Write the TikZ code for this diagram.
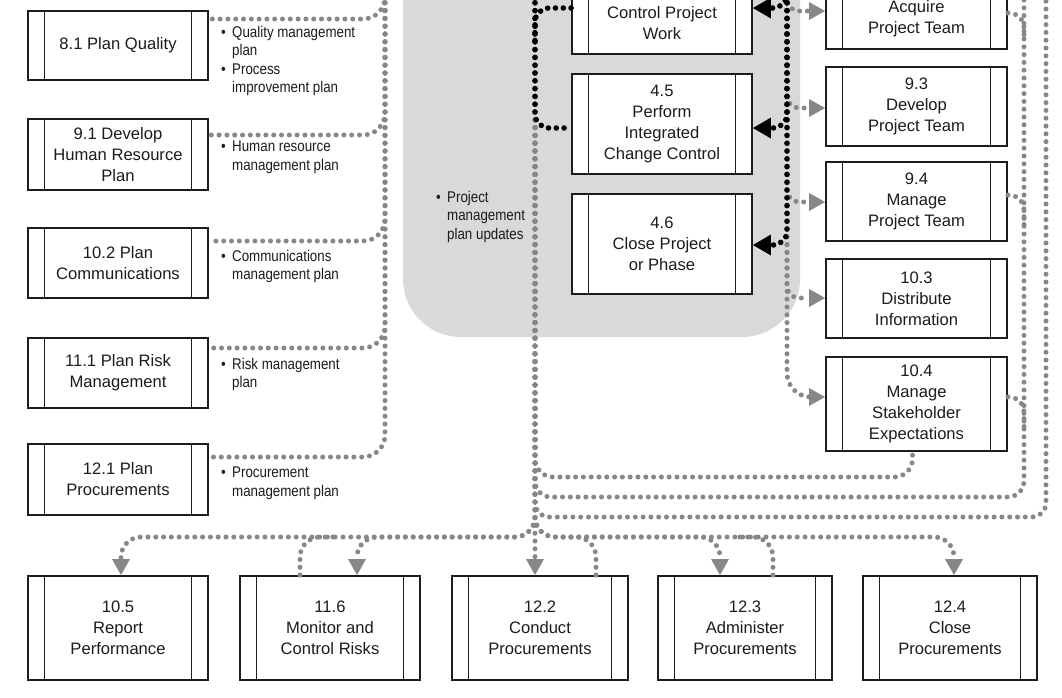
\documentclass[tikz,border=0pt]{standalone}
\usepackage{fontspec}
\setmainfont{Liberation Sans}
\newfontfamily\notefont[FakeStretch=0.86]{Liberation Sans}
\usetikzlibrary{arrows.meta,calc}

\definecolor{ink}{RGB}{28,28,28}
\definecolor{dotgray}{RGB}{135,135,135}
\definecolor{panelgray}{RGB}{217,217,217}

% bullet item and continuation indent for the output lists
\newcommand\itm{\makebox[11pt][l]{\textbullet}}
\newcommand\cnt{\hspace*{11pt}}

\begin{document}
\begin{tikzpicture}[x=1pt,y=-1pt,
  proc/.style={draw=ink, line width=1.9pt, fill=white, inner sep=0pt, align=center, text=ink,
    font=\fontsize{16.6pt}{21pt}\selectfont,
    path picture={
      \draw[ink, line width=1.5pt]
        ([xshift=16.5pt]path picture bounding box.north west) -- ([xshift=16.5pt]path picture bounding box.south west)
        ([xshift=-16.5pt]path picture bounding box.north east) -- ([xshift=-16.5pt]path picture bounding box.south east);
    }},
  note/.style={anchor=north west, inner sep=0pt, align=left, text=ink,
    font=\notefont\fontsize{15.5pt}{18.3pt}\selectfont},
  gdot/.style={draw=dotgray, line width=5pt, line cap=round, dash pattern=on 0pt off 7.8pt, rounded corners=18pt},
  bdot/.style={draw=black, line width=5.6pt, line cap=round, dash pattern=on 0pt off 7.8pt, rounded corners=14pt},
  gtip/.style={-{Triangle[length=16pt,width=18pt,line width=0pt]}},
  btip/.style={-{Triangle[length=18pt,width=21pt,line width=0pt]}},
]
\useasboundingbox (0,0) rectangle (1062,697);
\fill[white] (0,0) rectangle (1062,697);
\begin{scope}
\clip (0,0) rectangle (1062,697);

% shaded group of integration processes
\fill[panelgray, rounded corners=58pt] (403,-80) rectangle (800,337);

% planning processes
\node[proc, minimum width=180pt, minimum height=69pt] (q81) at (118,45.5) {8.1 Plan Quality};
\node[proc, minimum width=180pt, minimum height=71pt] (hr91) at (118,154.5) {9.1 Develop\\Human Resource\\Plan};
\node[proc, minimum width=180pt, minimum height=70pt] (c102) at (118,263) {10.2 Plan\\Communications};
\node[proc, minimum width=180pt, minimum height=70pt] (r111) at (118,373) {11.1 Plan Risk\\Management};
\node[proc, minimum width=180pt, minimum height=71pt] (p121) at (118,479.5) {12.1 Plan\\Procurements};

% their outputs
\node[note] (n81) at (221,26) {\itm Quality management\\\cnt plan\\\itm Process\\\cnt improvement plan};
\node[note] (n91) at (221,141) {\itm Human resource\\\cnt management plan};
\node[note] (n102) at (221,250) {\itm Communications\\\cnt management plan};
\node[note] (n111) at (221,358) {\itm Risk management\\\cnt plan};
\node[note] (n121) at (221,467) {\itm Procurement\\\cnt management plan};
\node[note] (npm) at (436,191) {\itm Project\\\cnt management\\\cnt plan updates};

% integration processes
\node[proc, minimum width=180pt, minimum height=62pt] (cpw) at (662,23) {Control Project\\Work};
\node[proc, minimum width=180pt, minimum height=100pt] (e45) at (662,124) {4.5\\Perform\\Integrated\\Change Control};
\node[proc, minimum width=180pt, minimum height=100pt] (e46) at (662,244) {4.6\\Close Project\\or Phase};

% executing processes
\node[proc, minimum width=181pt, minimum height=60pt] (apt) at (916.5,19) {Acquire\\Project Team};
\node[proc, minimum width=181pt, minimum height=79pt] (d93) at (916.5,106.5) {9.3\\Develop\\Project Team};
\node[proc, minimum width=181pt, minimum height=79pt] (m94) at (916.5,201.5) {9.4\\Manage\\Project Team};
\node[proc, minimum width=181pt, minimum height=79pt] (d103) at (916.5,298.5) {10.3\\Distribute\\Information};
\node[proc, minimum width=181pt, minimum height=94pt] (s104) at (916.5,404) {10.4\\Manage\\Stakeholder\\Expectations};

% monitoring and closing processes
\node[proc, minimum width=180pt, minimum height=104pt] (e105) at (118,628) {10.5\\Report\\Performance};
\node[proc, minimum width=180pt, minimum height=104pt] (e116) at (330,628) {11.6\\Monitor and\\Control Risks};
\node[proc, minimum width=176pt, minimum height=104pt] (e122) at (540,628) {12.2\\Conduct\\Procurements};
\node[proc, minimum width=174pt, minimum height=104pt] (e123) at (745,628) {12.3\\Administer\\Procurements};
\node[proc, minimum width=174pt, minimum height=104pt] (e124) at (950,628) {12.4\\Close\\Procurements};

% bus ends and junction points
\coordinate (ltop) at (385,-5);
\coordinate (gtopL) at (535,-5);
\coordinate (gtopR) at (787,-5);
\coordinate (rtopA) at (1024,-5);
\coordinate (rtopB) at (1046,-5);
\coordinate (busY) at (0,537);
\coordinate (bus477) at (0,477);
\coordinate (bus497) at (0,497);
\coordinate (bus517) at (0,517);
\coordinate (bjoin) at (535,42);
\coordinate (a105) at ($(e105.north)+(3,0)$);
\coordinate (a116) at ($(e116.north)+(27,0)$);
\coordinate (a122) at ($(e122.north)+(-5,0)$);
\coordinate (a123) at ($(e123.north)+(-25,0)$);
\coordinate (a124) at ($(e124.north)+(4,0)$);
\coordinate (o116) at ($(e116.north)+(-30,0)$);
\coordinate (o122) at ($(e122.north)+(56,0)$);
\coordinate (o123) at ($(e123.north)+(28,0)$);

% planning outputs join the left bus
\draw[gdot, rounded corners=22pt] (ltop) |- ($(q81.east)+(0,-26.5)$);
\draw[gdot, rounded corners=22pt] (ltop) |- ($(hr91.east)+(0,-19.5)$);
\draw[gdot, rounded corners=22pt] (ltop) |- ($(c102.east)+(0,-22)$);
\draw[gdot, rounded corners=22pt] (ltop) |- ($(r111.east)+(0,-25)$);
\draw[gdot, rounded corners=22pt] (ltop) |- ($(p121.east)+(0,-22.5)$);

% central grey bus down to the procurement processes
\draw[gdot, gtip] (gtopL) -- (a122);
\draw[gdot, gtip, rounded corners=20pt] (gtopL) |- (a105 |- busY) -- (a105);
\draw[gdot, gtip, rounded corners=20pt] (gtopL) |- (a116 |- busY) -- (a116);
\draw[gdot, gtip, rounded corners=20pt] (gtopL) |- (a123 |- busY) -- (a123);
\draw[gdot, gtip, rounded corners=20pt] (gtopL) |- (a124 |- busY) -- (a124);
\draw[gdot, rounded corners=20pt] (o116) |- ($(o116 |- busY)+(40,0)$);
\draw[gdot, rounded corners=20pt] (o122) |- ($(o122 |- busY)+(-40,0)$);
\draw[gdot, rounded corners=20pt] (o123) |- ($(o123 |- busY)+(-40,0)$);

% feedback lines from the executing processes
\draw[gdot, rounded corners=18pt] (gtopL) |- ($(s104.south |- bus477)+(-4,0)$) -- ($(s104.south)+(-4,0)$);
\draw[gdot, rounded corners=16pt] (gtopL) |- (rtopA |- bus497) -- (rtopA);
\draw[gdot, rounded corners=14pt] (gtopL) |- (rtopB |- bus517) -- (rtopB);
\draw[gdot, rounded corners=15pt] ($(apt.east)+(0,-6)$) -| ($(rtopA)+(0,45)$);
\draw[gdot, rounded corners=15pt] ($(m94.east)+(0,-6.5)$) -| ($(rtopA |- m94.east)+(0,25)$);
\draw[gdot, rounded corners=15pt] ($(s104.east)+(0,-7)$) -| ($(rtopA |- s104.east)+(0,25)$);

% grey bus into the executing processes
\draw[gdot, gtip, rounded corners=12pt] (gtopR) |- ($(apt.west)+(0,-8)$);
\draw[gdot, gtip, rounded corners=12pt] (gtopR) |- ($(d93.west)+(0,1.5)$);
\draw[gdot, gtip, rounded corners=12pt] (gtopR) |- ($(m94.west)+(0,0.5)$);
\draw[gdot, gtip, rounded corners=12pt] (gtopR) |- ($(d103.west)+(0,-0.5)$);
\draw[gdot, gtip, rounded corners=24pt] (gtopR) |- ($(s104.west)+(0,-7)$);

% black change-request loops
\draw[bdot] (gtopL) |- ($(e45.west)+(0,4)$);
\draw[bdot] ($(cpw.west)+(0,-15)$) -| (bjoin);
\draw[bdot, btip] (gtopR) |- ($(cpw.east)+(0,-15)$);
\draw[bdot, btip] (gtopR) |- ($(e45.east)+(0,4)$);
\draw[bdot, btip] (gtopR) |- ($(e46.east)+(0,1)$);

\end{scope}
\end{tikzpicture}
\end{document}
